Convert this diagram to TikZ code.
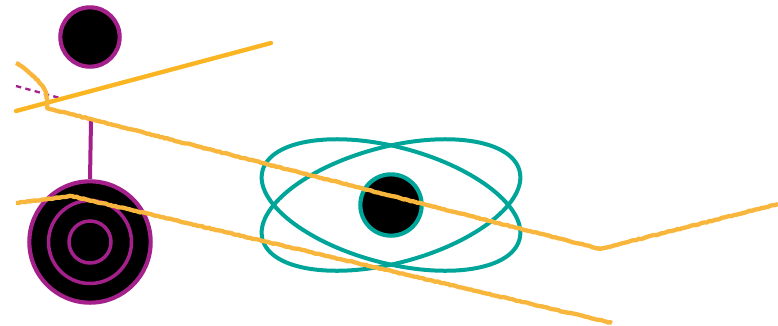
\documentclass[tikz,border=0pt]{standalone}
\usepackage{xcolor}
\usepackage{tikz}
\usetikzlibrary{positioning,decorations.pathmorphing}

\definecolor{ringmag}{HTML}{A4218B}
\definecolor{orbitteal}{HTML}{00A59A}
\definecolor{beamyellow}{HTML}{FBB522}
\definecolor{sketchyellow}{HTML}{F9B63C}

\begin{document}
\begin{tikzpicture}[x=0.03cm,y=-0.03cm,
  planet/.style={circle,draw,fill=black,line width=1.25mm,inner sep=0pt},
  ring/.style={draw=ringmag,line width=1.05mm},
  orbit/.style={draw=orbitteal,line width=1.2mm},
  beam/.style={draw=beamyellow,line width=1.3mm,line cap=round},
  sketch/.style={draw=sketchyellow,line width=1.3mm,line join=round,
    decorate,decoration={random steps,segment length=2pt,amplitude=0.4pt}}]
  \useasboundingbox (0,0) rectangle (778,325);

  % bodies
  \node[planet,draw=ringmag,minimum size=1.78cm] (moon) at (90,37) {};
  \node[planet,draw=ringmag,minimum size=3.64cm] (gear) at (90,242) {};
  \draw[ring] (gear.center) circle [radius=41.5];
  \draw[ring] (gear.center) circle [radius=21];

  % atom
  \node[planet,draw=orbitteal,minimum size=1.84cm] (core) at (391,205) {};
  \draw[orbit,rotate around={-15:(core.center)}] (core.center) ellipse [x radius=133,y radius=58];
  \draw[orbit,rotate around={15:(core.center)}] (core.center) ellipse [x radius=133,y radius=58];

  % magenta links
  \coordinate (stem) at (91,121);
  \draw[ring,line width=1.2mm] (stem) -- (gear.north);
  \coordinate (tickA) at (16,86);
  \coordinate (tickB) at (60,98);
  \draw[ring,line width=0.7mm,dash pattern=on 1.6mm off 1.3mm] (tickA) -- (tickB);

  % yellow rays
  \coordinate (rayA) at (16,111);
  \coordinate (rayB) at (271,43);
  \draw[beam] (rayA) -- (rayB);

  \coordinate (hookA) at (16,63);
  \coordinate (hookB) at (47,100);
  \coordinate (knee) at (47,108);
  \coordinate (dip) at (600,249);
  \coordinate (exitR) at (778,204);
  \draw[sketch] (hookA) .. controls (36,76) and (47,88) .. (hookB) -- (knee) -- (dip) -- (exitR);

  \coordinate (lowA) at (16,203);
  \coordinate (peak) at (72,196);
  \coordinate (lowB) at (612,323);
  \draw[sketch] (lowA) -- (peak) -- (lowB);
\end{tikzpicture}
\end{document}
